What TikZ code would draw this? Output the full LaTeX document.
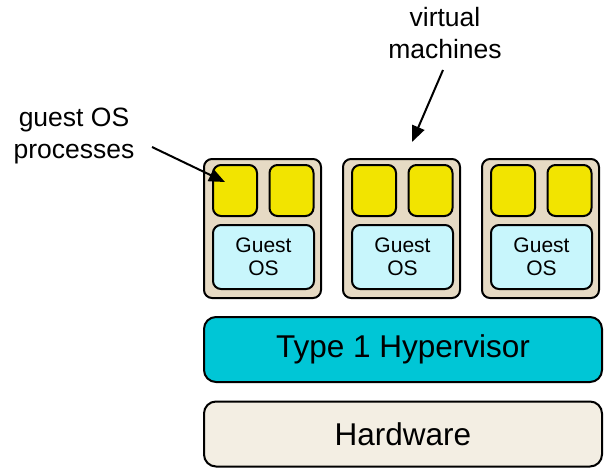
\documentclass[tikz,border=0pt]{standalone}
\usepackage{fontspec}
\setmainfont{Liberation Sans}
\usetikzlibrary{arrows.meta}
\definecolor{vmtan}{RGB}{230,218,196}
\definecolor{procyel}{RGB}{242,228,0}
\definecolor{guestcyan}{RGB}{200,246,252}
\definecolor{hypcyan}{RGB}{0,198,214}
\definecolor{hwbeige}{RGB}{243,238,227}
\tikzset{
  box/.style={draw=black, line width=2pt, rounded corners=8pt, inner sep=0pt},
  vmbox/.style={box, fill=vmtan, minimum width=117pt, minimum height=139pt},
  procbox/.style={box, fill=procyel, minimum width=44pt, minimum height=51pt},
  guestbox/.style={box, fill=guestcyan, minimum width=101pt, minimum height=64pt, align=center, font=\fontsize{21}{22.5}\selectfont},
  layerbox/.style={box, rounded corners=12pt, minimum width=398pt, minimum height=65pt, font=\fontsize{31.5}{34}\selectfont},
  lbl/.style={align=center, inner sep=0pt, font=\fontsize{26.5}{31.5}\selectfont},
  pointer/.style={line width=2pt, -{Triangle[length=16pt,width=13pt]}}
}
\begin{document}
\begin{tikzpicture}[x=1pt,y=-1pt]
\useasboundingbox (0,0) rectangle (604,469);
\foreach \i/\dx in {1/0,2/139,3/278}{
  \node[vmbox] (vm\i) at (262.5+\dx,228.5) {};
  \node[procbox] (pa\i) at (235+\dx,190.5) {};
  \node[procbox] (pb\i) at (291.5+\dx,190.5) {};
  \node[guestbox] (g\i) at (263.5+\dx,257) {Guest\\OS};
}
\node[layerbox, fill=hypcyan] (hyp) at (403,349.5) {Type 1 Hypervisor};
\node[layerbox, fill=hwbeige] (hw) at (403,434) {Hardware};
\node[lbl] (gp) at (74,136) {guest OS\\processes};
\node[lbl] (vmlbl) at (445,33) {virtual\\machines};
\coordinate (gpstart) at (152,147);
\coordinate (gpend) at (225,182);
\coordinate (vmstart) at (443,70);
\coordinate (vmend) at (412,142);
\draw[pointer] (gpstart) -- (gpend);
\draw[pointer] (vmstart) -- (vmend);
\end{tikzpicture}
\end{document}
